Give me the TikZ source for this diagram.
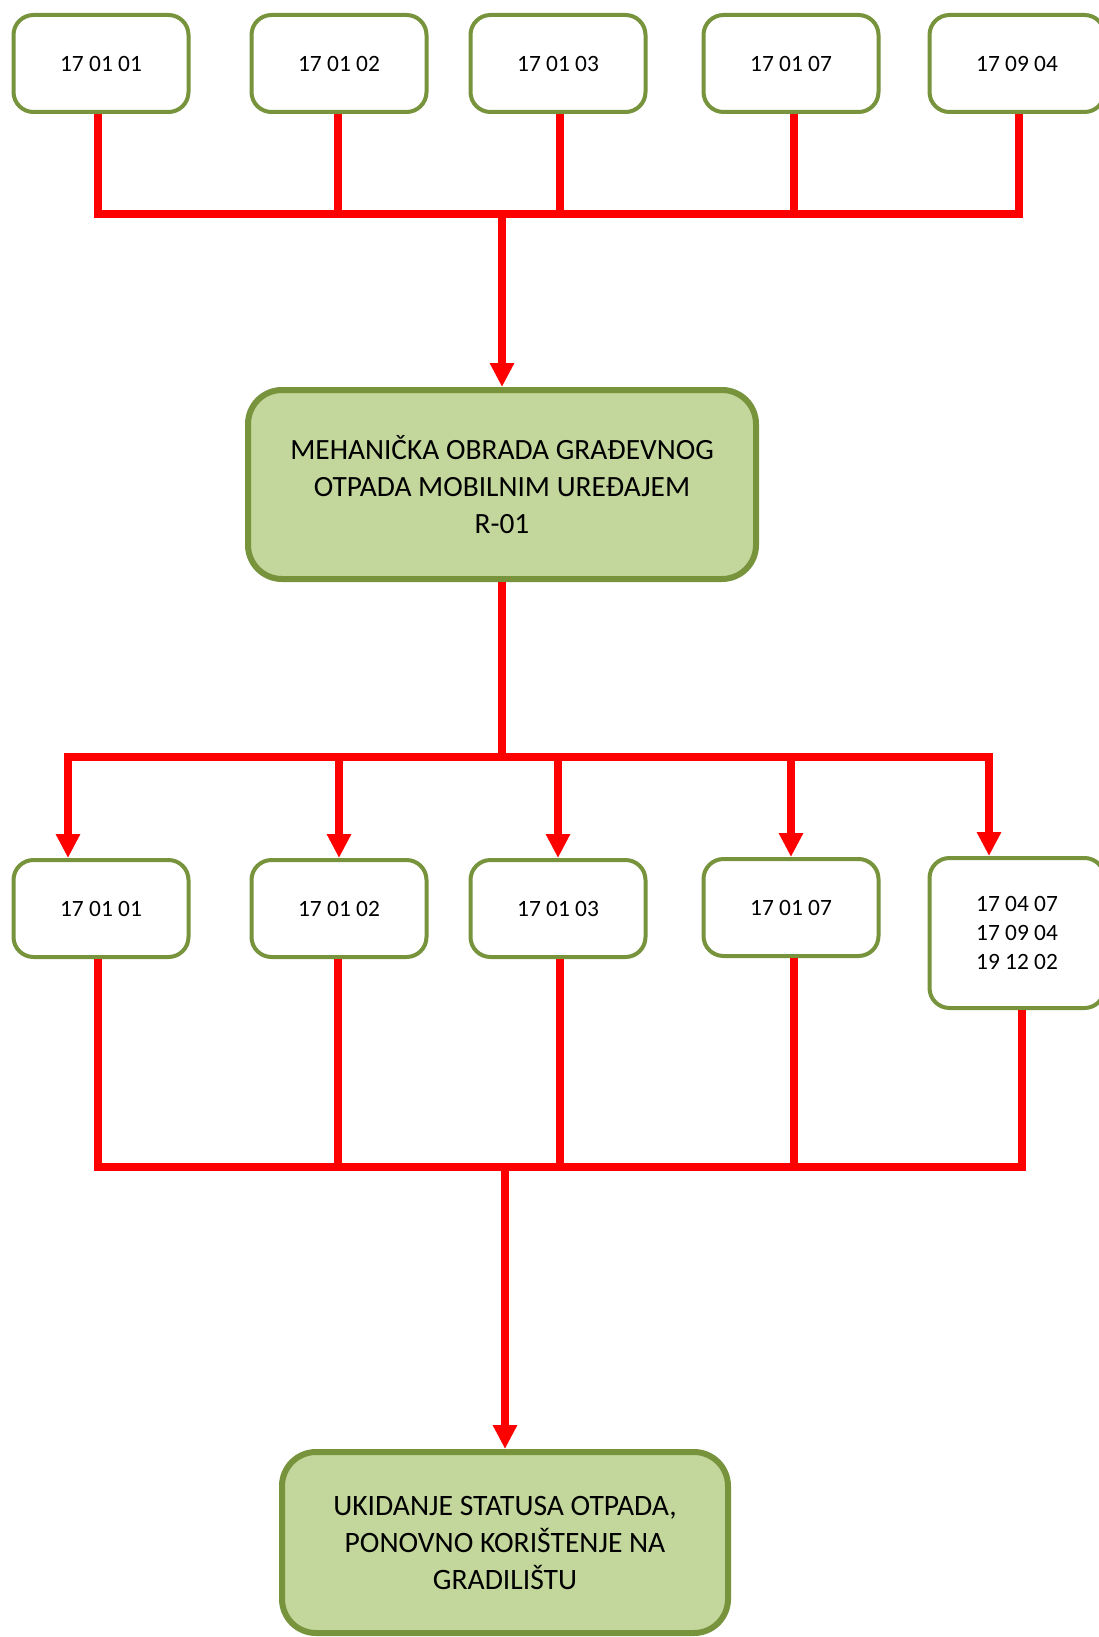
\documentclass[tikz,border=0pt]{standalone}
\usepackage{fontspec}
\setmainfont{Carlito}
\usetikzlibrary{arrows.meta}
\definecolor{boxgreen}{HTML}{77933C}
\definecolor{boxfill}{HTML}{C3D69B}
\definecolor{linered}{HTML}{FF0000}
\begin{document}
\begin{tikzpicture}[x=1pt,y=-1pt,
  code/.style={draw=boxgreen, line width=4pt, rounded corners=20pt, fill=white,
    minimum width=175pt, minimum height=97pt, inner sep=0pt,
    font=\fontsize{23.4}{29}\selectfont, align=center, text=black},
  proc/.style={draw=boxgreen, line width=6pt, rounded corners=34pt, fill=boxfill,
    inner sep=0pt, font=\fontsize{29.4}{37}\selectfont, align=center, text=black},
  wire/.style={draw=linered, line width=7.5pt},
  busline/.style={wire, line cap=rect},
  arr/.style={wire, -{Triangle[length=24pt,width=23pt]}}
]
\useasboundingbox (0,0) rectangle (1099,1637);
\clip (0,0) rectangle (1099,1637);
\fill[white] (0,0) rectangle (1099,1637);

% top row
\node[code] (t1) at (101,63.5) {17 01 01};
\node[code] (t2) at (339,63.5) {17 01 02};
\node[code] (t3) at (558,63.5) {17 01 03};
\node[code] (t4) at (791,63.5) {17 01 07};
\node[code] (t5) at (1017,63.5) {17 09 04};

% main process
\node[proc, minimum width=508pt, minimum height=189pt] (m) at (502,484.5)
  {MEHANIČKA OBRADA GRAĐEVNOG\\OTPADA MOBILNIM UREĐAJEM\\R-01};

% lower row
\node[code] (l1) at (101,908.5) {17 01 01};
\node[code] (l2) at (339,908.5) {17 01 02};
\node[code] (l3) at (558,908.5) {17 01 03};
\node[code] (l4) at (791,907.5) {17 01 07};
\node[code, minimum height=150pt] (l5) at (1017,933) {17 04 07\\17 09 04\\19 12 02};

% final
\node[proc, minimum width=446pt, minimum height=181pt, font=\fontsize{29.6}{37}\selectfont] (f) at (505,1542.5)
  {UKIDANJE STATUSA OTPADA,\\PONOVNO KORIŠTENJE NA\\GRADILIŠTU};

% bus coordinates
\coordinate (bus1) at (502,214);
\coordinate (bus2) at (502,757);
\coordinate (bus3) at (504,1167);
\coordinate (a1) at ([xshift=-33pt]l1.north);
\coordinate (a5) at ([xshift=-28pt]l5.north);
% connector points on the boxes
\coordinate (s1) at ([xshift=-3pt]t1.south);
\coordinate (s2) at ([xshift=-1pt]t2.south);
\coordinate (s3) at ([xshift=2pt]t3.south);
\coordinate (s4) at ([xshift=3pt]t4.south);
\coordinate (s5) at ([xshift=2pt]t5.south);
\coordinate (d1) at ([xshift=-3pt]l1.south);
\coordinate (d2) at ([xshift=-1pt]l2.south);
\coordinate (d3) at ([xshift=2pt]l3.south);
\coordinate (d4) at ([xshift=3pt]l4.south);
\coordinate (d5) at ([xshift=5pt]l5.south);

% top bus
\draw[wire] (s1) -- (s1 |- bus1) -- (s5 |- bus1) -- (s5);
\draw[wire] (s2) -- (s2 |- bus1);
\draw[wire] (s3) -- (s3 |- bus1);
\draw[wire] (s4) -- (s4 |- bus1);
\draw[arr] (m.north |- bus1) -- (m.north);

% distribution
\draw[wire] (m.south) -- (m.south |- bus2);
\draw[busline] (a1 |- bus2) -- (a5 |- bus2);
\draw[arr] (a1 |- bus2) -- (a1);
\draw[arr] (l2.north |- bus2) -- (l2.north);
\draw[arr] (l3.north |- bus2) -- (l3.north);
\draw[arr] (l4.north |- bus2) -- (l4.north);
\draw[arr] (a5 |- bus2) -- (a5);

% collection
\draw[wire] (d1) -- (d1 |- bus3) -- (d5 |- bus3) -- (d5);
\draw[wire] (d2) -- (d2 |- bus3);
\draw[wire] (d3) -- (d3 |- bus3);
\draw[wire] (d4) -- (d4 |- bus3);
\draw[arr] (f.north |- bus3) -- (f.north);
\end{tikzpicture}
\end{document}
